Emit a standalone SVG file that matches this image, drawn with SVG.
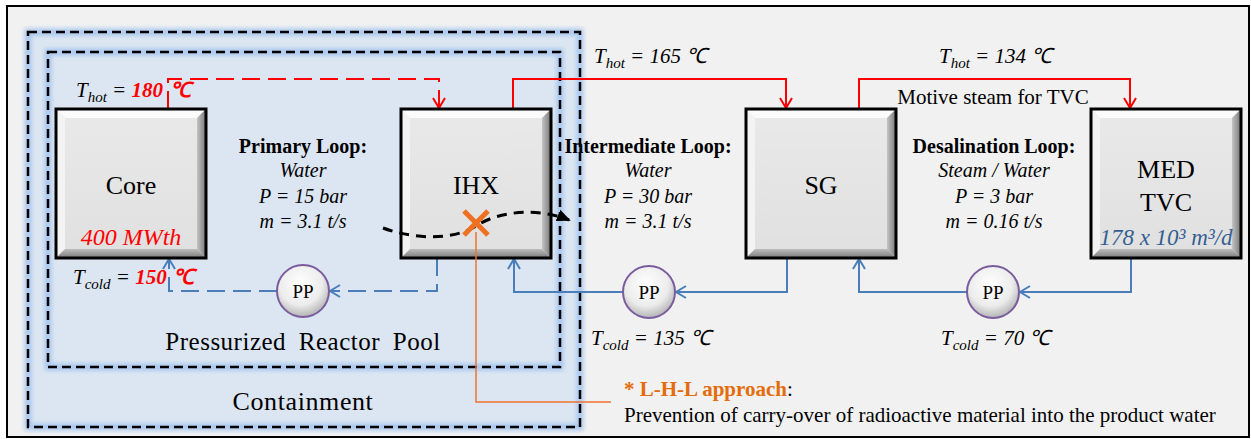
<svg xmlns="http://www.w3.org/2000/svg" width="1251" height="439" viewBox="0 0 1251 439">
<defs>
<style>
text{font-family:"Liberation Serif","Times New Roman",serif;fill:#000}
.lbl{font-size:26px;text-anchor:middle}
.hd{font-size:20px;font-weight:bold;text-anchor:middle}
.it{font-size:20px;font-style:italic;text-anchor:middle}
.tl{font-size:21px;font-style:italic}
.sub{font-size:15px}
.rb{fill:#ff0000;font-weight:bold}
.pp{font-size:19px;text-anchor:middle}
.hot{fill:none;stroke:#ff0000;stroke-width:2}
.cold{fill:none;stroke:#4a7ebb;stroke-width:2}
.dash{stroke-dasharray:18 8}
.bdash{fill:none;stroke:#000;stroke-width:2.5;stroke-dasharray:9 5}
.glow{fill:none;stroke:#a9c8ee;stroke-width:7;filter:url(#blur)}
</style>
<filter id="blur" x="-5%" y="-5%" width="110%" height="110%"><feGaussianBlur stdDeviation="2"/></filter>
<linearGradient id="gR" x1="0" y1="0" x2="1" y2="0"><stop offset="0" stop-color="#c4c4c4"/><stop offset="1" stop-color="#767676"/></linearGradient>
<linearGradient id="gB" x1="0" y1="0" x2="0" y2="1"><stop offset="0" stop-color="#bdbdbd"/><stop offset="1" stop-color="#7a7a7a"/></linearGradient>
<linearGradient id="gF" x1="0" y1="0" x2="0" y2="1"><stop offset="0" stop-color="#e9e9e9"/><stop offset="1" stop-color="#e0e0e0"/></linearGradient>
<radialGradient id="gP" cx="0.45" cy="0.35" r="0.7"><stop offset="0" stop-color="#ffffff"/><stop offset="0.6" stop-color="#ececec"/><stop offset="1" stop-color="#a8a8a8"/></radialGradient>
<g id="box">
<rect x="0" y="0" width="150" height="149" fill="url(#gF)"/>
<polygon points="0,0 150,0 141,9 9,9" fill="#fbfbfb"/>
<polygon points="0,0 9,9 9,140 0,149" fill="#f3f3f3"/>
<polygon points="150,0 150,149 141,140 141,9" fill="url(#gR)"/>
<polygon points="0,149 150,149 141,140 9,140" fill="url(#gB)"/>
<rect x="0" y="0" width="150" height="149" fill="none" stroke="#000" stroke-width="3"/>
</g>
<g id="pump">
<circle cx="0" cy="0" r="26" fill="url(#gP)" stroke="#7a5c9e" stroke-width="2"/>
</g>
<marker id="aR" viewBox="0 0 14 14" refX="12" refY="7" markerWidth="14" markerHeight="14" markerUnits="userSpaceOnUse" orient="auto"><path d="M2,1 L12,7 L2,13" fill="none" stroke="#ff0000" stroke-width="2"/></marker>
<marker id="aB" viewBox="0 0 14 14" refX="12" refY="7" markerWidth="14" markerHeight="14" markerUnits="userSpaceOnUse" orient="auto"><path d="M2,1 L12,7 L2,13" fill="none" stroke="#4a7ebb" stroke-width="2"/></marker>
<marker id="aK" viewBox="0 0 14 14" refX="12" refY="7" markerWidth="14" markerHeight="14" markerUnits="userSpaceOnUse" orient="auto"><path d="M0,1 L14,7 L0,13 Z" fill="#000"/></marker>
</defs>

<rect x="0" y="0" width="1251" height="439" fill="#ffffff"/>
<rect x="7" y="6" width="1242" height="431" fill="#f1f1f1" stroke="#000" stroke-width="2"/>

<g id="containment">
<rect x="28" y="32" width="552" height="395" fill="#dce6f2"/>
<rect class="glow" x="28" y="32" width="552" height="395"/>
<rect class="bdash" x="28" y="32" width="552" height="395"/>
<text x="303" y="410" style="font-size:26px;text-anchor:middle;letter-spacing:0.6px">Containment</text>
</g>
<g id="pool">
<rect class="glow" x="48" y="52" width="512" height="315"/>
<rect class="bdash" x="48" y="52" width="512" height="315"/>
<text x="303" y="350" style="font-size:25px;text-anchor:middle;letter-spacing:0.5px;word-spacing:6px">Pressurized Reactor Pool</text>
</g>

<g id="connectors">
<path class="hot dash" d="M168,109 V79 H439 V108" marker-end="url(#aR)"/>
<path class="hot" d="M513,109 V79 H786 V108" marker-end="url(#aR)"/>
<path class="hot" d="M859,109 V79 H1130 V108" marker-end="url(#aR)"/>
<path class="cold dash" d="M437,258 V291 H330" marker-end="url(#aB)"/>
<path class="cold dash" d="M277,291 H169 V259" marker-end="url(#aB)"/>
<path class="cold" d="M787,258 V292 H676" marker-end="url(#aB)"/>
<path class="cold" d="M622,292 H514 V259" marker-end="url(#aB)"/>
<path class="cold" d="M1131,258 V292 H1020" marker-end="url(#aB)"/>
<path class="cold" d="M967,292 H859 V259" marker-end="url(#aB)"/>
</g>

<g id="core">
<use href="#box" x="56" y="109"/>
<text class="lbl" x="131" y="194">Core</text>
<text x="131" y="245" style="font-size:24px;font-style:italic;text-anchor:middle;fill:#ff0000">400 MWth</text>
</g>
<g id="ihx">
<use href="#box" x="401" y="109"/>
<text class="lbl" x="476" y="194">IHX</text>
</g>
<g id="sg">
<use href="#box" x="746" y="109"/>
<text class="lbl" x="821" y="194">SG</text>
</g>
<g id="med-tvc">
<use href="#box" x="1091" y="109"/>
<text class="lbl" x="1166" y="178">MED</text>
<text class="lbl" x="1166" y="211">TVC</text>
<text x="1166" y="245" style="font-size:23px;font-style:italic;text-anchor:middle;fill:#365f91">178 x 10³ m³/d</text>
</g>

<g id="pp1"><use href="#pump" x="303" y="291"/><text class="pp" x="303" y="298">PP</text></g>
<g id="pp2"><use href="#pump" x="649" y="292"/><text class="pp" x="649" y="299">PP</text></g>
<g id="pp3"><use href="#pump" x="993" y="292"/><text class="pp" x="993" y="299">PP</text></g>

<g id="lhl">
<path d="M476,232 V402 H611" fill="none" stroke="#ee7330" stroke-width="1.5"/>
<path d="M383,228 C410,238 450,242 476,226 C500,210 540,208 569,220" fill="none" stroke="#000" stroke-width="3" stroke-dasharray="10 7" marker-end="url(#aK)"/>
<path d="M464,211 L488,235 M488,211 L464,235" stroke="#f07021" stroke-width="5" stroke-linecap="butt"/>
<text x="624" y="396" style="font-size:21px"><tspan style="fill:#e46c0a;font-weight:bold">* L-H-L approach</tspan>:</text>
<text x="624" y="422" style="font-size:21px">Prevention of carry-over of radioactive material into the product water</text>
</g>

<g id="loop-labels">
<text class="hd" x="303" y="153">Primary Loop:</text>
<text class="it" x="303" y="177">Water</text>
<text class="it" x="303" y="203">P = 15 bar</text>
<text class="it" x="303" y="228">m = 3.1 t/s</text>
<text class="hd" x="648" y="153">Intermediate Loop:</text>
<text class="it" x="648" y="177">Water</text>
<text class="it" x="648" y="203">P = 30 bar</text>
<text class="it" x="648" y="228">m = 3.1 t/s</text>
<text class="hd" x="994" y="153">Desalination Loop:</text>
<text class="it" x="994" y="177">Steam / Water</text>
<text class="it" x="994" y="203">P = 3 bar</text>
<text class="it" x="994" y="228">m = 0.16 t/s</text>
<text x="993" y="104" style="font-size:21px;text-anchor:middle">Motive steam for TVC</text>
</g>

<g id="temps">
<text class="tl" x="76" y="97">T<tspan class="sub" dy="5">hot</tspan><tspan dy="-5"> = </tspan><tspan class="rb">180</tspan></text>
<text class="tl rb" x="170" y="97">℃</text>
<text class="tl" x="73" y="284">T<tspan class="sub" dy="5">cold</tspan><tspan dy="-5"> = </tspan><tspan class="rb">150</tspan></text>
<text class="tl rb" x="173" y="284">℃</text>
<text class="tl" x="594" y="63">T<tspan class="sub" dy="5">hot</tspan><tspan dy="-5"> = 165 ℃</tspan></text>
<text class="tl" x="939" y="63">T<tspan class="sub" dy="5">hot</tspan><tspan dy="-5"> = 134 ℃</tspan></text>
<text class="tl" x="591" y="345">T<tspan class="sub" dy="5">cold</tspan><tspan dy="-5"> = 135 ℃</tspan></text>
<text class="tl" x="941" y="345">T<tspan class="sub" dy="5">cold</tspan><tspan dy="-5"> = 70 ℃</tspan></text>
</g>
</svg>
